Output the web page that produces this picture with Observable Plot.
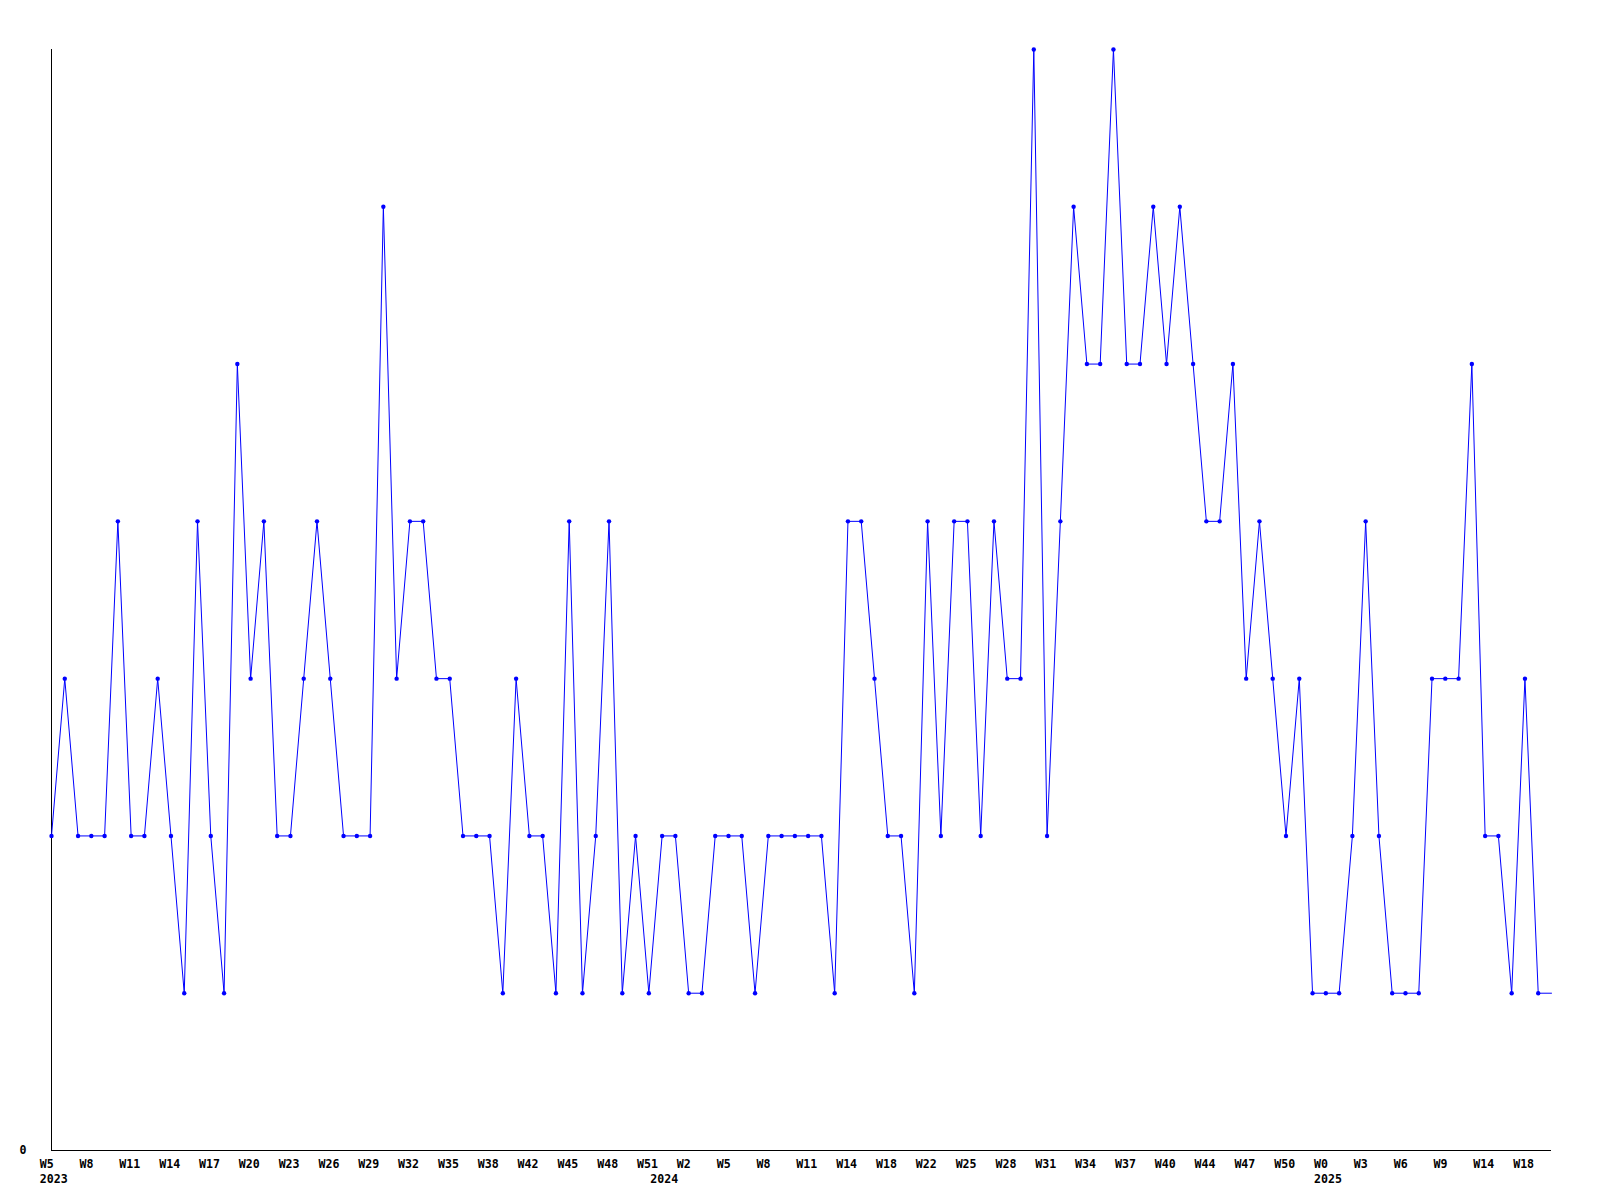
<!DOCTYPE html>
<html>
<head>
<meta charset="utf-8">
<script src="https://cdn.jsdelivr.net/npm/d3@7"></script>
<script src="https://cdn.jsdelivr.net/npm/@observablehq/plot@0.6"></script>
<style>
  html, body { margin: 0; padding: 0; background: #fff; }
  #chart svg { display: block; }
</style>
</head>
<body>
<div id="chart"></div>
<script>
// Weekly values, one per point (index 0 = 2023 W5)
const values = [
  2,3,2,2,2,4,2,2,3,2,
  1,4,2,1,5,3,4,2,2,3,
  4,3,2,2,2,6,3,4,4,3,
  3,2,2,2,1,3,2,2,1,4,
  1,2,4,1,2,1,2,2,1,1,
  2,2,2,1,2,2,2,2,2,1,
  4,4,3,2,2,1,4,2,4,4,
  2,4,3,3,7,2,4,6,5,5,
  7,5,5,6,5,6,5,4,4,5,
  3,4,3,2,3,1,1,1,2,4,
  2,1,1,1,3,3,3,5,2,2,
  1,3,1
];
// continuation of the line past the last marked week (no marker drawn)
const trailingValue = 1;

// Week tick labels (every third point)
const tickIndex = [0,3,6,9,12,15,18,21,24,27,30,33,36,39,42,45,48,51,54,57,60,63,66,69,72,75,78,81,84,87,90,93,96,99,102,105,108,111];
const tickLabels = ["W5","W8","W11","W14","W17","W20","W23","W26","W29","W32","W35","W38","W42","W45","W48","W51","W2","W5","W8","W11","W14","W18","W22","W25","W28","W31","W34","W37","W40","W44","W47","W50","W0","W3","W6","W9","W14","W18"];

// Year labels
const yearIndex = [0, 46, 96];
const yearLabels = ["2023", "2024", "2025"];

const points = values.map((v, i) => ({i, v}));
const linePoints = points.concat([{i: values.length, v: trailingValue}]);

const tickMap = new Map(tickIndex.map((d, k) => [d, tickLabels[k]]));
const yearMap = new Map(yearIndex.map((d, k) => [d, yearLabels[k]]));

const blue = "#0000ff";
const font = {fontFamily: "'DejaVu Sans Mono', 'Liberation Mono', monospace", fontWeight: "bold", fontSize: 11.6, fill: "#000"};

const chart = Plot.plot({
  width: 1600,
  height: 1200,
  marginTop: 49,
  marginBottom: 50,
  marginLeft: 51,
  marginRight: 49,
  style: {background: "#fff", fontFamily: font.fontFamily, fontSize: "11.6px", fontWeight: "bold", color: "#000"},
  x: {domain: [0, values.length], type: "linear", label: null},
  y: {domain: [0, 7], label: null},
  marks: [
    Plot.ruleX([0], {y1: 0, y2: 7, stroke: "#000", strokeWidth: 1}),
    Plot.ruleY([0], {stroke: "#000", strokeWidth: 1}),
    Plot.line(linePoints, {x: "i", y: "v", stroke: blue, strokeWidth: 1, curve: "linear"}),
    Plot.dot(points, {x: "i", y: "v", r: 2.2, fill: blue, stroke: "none"}),
    Plot.axisY({ticks: [0], label: null, tickSize: 0, tickPadding: 25, tickFormat: d => String(d), ...font}),
    Plot.axisX({ticks: tickIndex, label: null, tickSize: 0, tickPadding: 9.3, textAnchor: "start", dx: -11.8,
      tickFormat: d => tickMap.get(d), ...font}),
    Plot.axisX({ticks: yearIndex, label: null, tickSize: 0, tickPadding: 24, textAnchor: "start", dx: -11.8,
      tickFormat: d => yearMap.get(d), ...font})
  ]
});

document.getElementById("chart").appendChild(chart);
</script>
</body>
</html>
